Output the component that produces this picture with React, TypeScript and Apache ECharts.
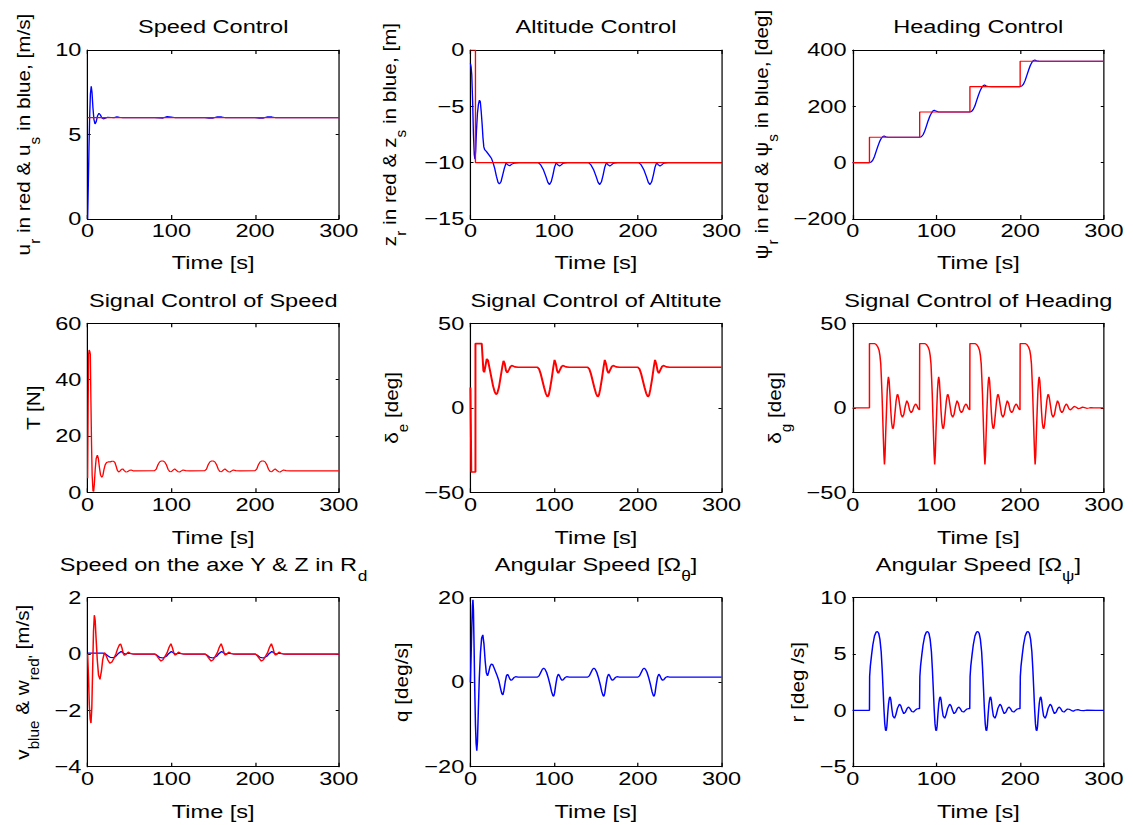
import React, { useEffect, useRef } from "react";
import * as echarts from "echarts";

// The reference figure uses wide glyphs; the chart is drawn at a narrower
// width and stretched back horizontally by CSS.
const S = 1.2396;
const W = 914;
const H = 825;
// stretch along the vertical (rotated) axis titles
const LABEL_ALONG = 1.09;

const FONT = '"Liberation Sans", Arial, Helvetica, sans-serif';
const RED = "#ff0000";
const BLUE = "#0000ff";

// ---------- tick values ----------
const timeTicks = [0, 100, 200, 300];

// ---------- titles and labels ----------
const titles = [
  "Speed Control",
  "Altitude Control",
  "Heading Control",
  "Signal Control of Speed",
  "Signal Control of Altitute",
  "Signal Control of Heading",
  "{m|Speed on the axe Y & Z in R}{s|d}",
  "{m|Angular Speed [Ω}{s|θ}{m|]}",
  "{m|Angular Speed [Ω}{s|ψ}{m|]}",
];
const yNames = [
  "{m|u}{s|r}{m| in red & u}{s|s}{m| in blue, [m/s]}",
  "{m|z}{s|r}{m| in red & z}{s|s}{m| in blue, [m]}",
  "{m|ψ}{s|r}{m| in red & ψ}{s|s}{m| in blue, [deg]}",
  "{m|T [N]}",
  "{m|δ}{s|e}{m| [deg]}",
  "{m|δ}{s|g}{m| [deg]}",
  "{m|v}{s|blue}{m| & w}{s|red'}{m| [m/s]}",
  "{m|q [deg/s]}",
  "{m|r [deg /s]}",
];
const xName = "Time [s]";
const yMin = [0, -15, -200, 0, -50, -50, -4, -20, -5];
const yMax = [10, 0, 400, 60, 50, 50, 2, 20, 10];
const yStep = [5, 5, 200, 20, 50, 50, 2, 20, 5];

// ---------- data: [time s, value] ----------
const speedRef: number[][] = [[0, 6], [300, 6]];
const speedMeas: number[][] = [
  [0, 0], [0.8, 2], [1.6, 4.2], [2.5, 6.2], [3.3, 7.4], [4.3, 7.85], [5.2, 7.5], [6.3, 6.6], [7.5, 5.9],
  [8.8, 5.62], [10.2, 5.75], [11.8, 6.1], [13.5, 6.26], [15.3, 6.15], [17, 5.98], [18.8, 5.92], [21, 5.96],
  [24, 6.02], [28, 6.01], [32, 6.0], [35, 6.05], [38, 6.02], [42, 5.99], [50, 6.0], [60, 6.0], [80, 6.0],
  [85, 5.98], [90, 5.97], [95, 6.06], [100, 6.04], [105, 5.99], [110, 6.01], [120, 6.0], [140, 6.0],
  [145, 5.97], [150, 5.97], [155, 6.05], [160, 6.04], [165, 5.99], [170, 6.01], [180, 6.0], [200, 6.0],
  [205, 5.97], [210, 5.97], [215, 6.05], [220, 6.04], [225, 5.99], [230, 6.01], [240, 6.0], [300, 6.0],
];

const altRef: number[][] = [[0, 0], [6, 0], [6, -10], [300, -10]];
const altMeas: number[][] = [
  [0, -1.2], [0.8, -1.5], [1.6, -2.2], [2.6, -4.5], [3.6, -7.5], [4.6, -9.3], [5.4, -9.7], [6.2, -9.0],
  [7.2, -7.2], [8.4, -5.6], [9.6, -4.8], [10.8, -4.45], [11.8, -4.6], [12.8, -5.4], [14, -6.6], [15, -7.8],
  [16, -8.6], [17, -8.85], [19, -9.0], [21, -9.2], [23, -9.4], [25, -9.6], [27, -10], [29, -10.5],
  [31, -11.2], [33, -11.75], [34.6, -11.9], [36.5, -11.7], [38.5, -11.1], [40.5, -10.5], [42.5, -10.05],
  [45, -10.2], [47, -10.28], [49, -10.15], [52, -10.05], [58, -10], [81, -10], [84, -10.2], [87, -10.6],
  [90, -11.2], [92.5, -11.75], [94.5, -11.95], [96.5, -11.7], [98.5, -11.1], [100.5, -10.4], [102.5, -10.0],
  [104.5, -10.2], [106.5, -10.3], [108.5, -10.2], [111, -10.05], [116, -10], [141, -10], [144, -10.2],
  [147, -10.6], [150, -11.2], [152.5, -11.75], [154.5, -11.95], [156.5, -11.7], [158.5, -11.1],
  [160.5, -10.4], [162.5, -10.0], [164.5, -10.2], [166.5, -10.3], [168.5, -10.2], [171, -10.05], [176, -10],
  [201, -10], [204, -10.2], [207, -10.6], [210, -11.2], [212.5, -11.75], [214.5, -11.95], [216.5, -11.7],
  [218.5, -11.1], [220.5, -10.4], [222.5, -10.0], [224.5, -10.2], [226.5, -10.3], [228.5, -10.2],
  [231, -10.05], [236, -10], [300, -10],
];

const headRef: number[][] = [
  [0, 0], [20, 0], [20, 90], [80, 90], [80, 180], [140, 180], [140, 270], [200, 270], [200, 360], [300, 360],
];
const headMeas: number[][] = [
  [0, 0], [20, 0], [22, 2], [24, 9], [26, 22], [28, 40], [30, 58], [32, 74], [34, 86], [36, 93], [37.5, 94.5],
  [39.5, 92], [42, 90.5], [46, 90], [80, 90], [82, 92], [84, 99], [86, 112], [88, 130], [90, 148], [92, 164],
  [94, 176], [96, 184], [97.5, 186], [99.5, 183], [102, 180.5], [106, 180], [140, 180], [142, 182], [144, 189],
  [146, 202], [148, 220], [150, 238], [152, 254], [154, 266], [156, 274], [157.5, 275.5], [159.5, 272.5],
  [162, 270.5], [166, 270], [200, 270], [202, 272], [204, 279], [206, 292], [208, 310], [210, 328], [212, 344],
  [214, 356], [216, 363], [217.5, 364.5], [219.5, 362], [222, 360.5], [226, 360], [300, 360],
];

const thrust: number[][] = [
  [0, 5], [0.6, 30], [1.2, 49], [1.8, 50.5], [2.6, 50], [3.2, 49], [3.8, 35], [4.6, 18], [5.4, 6], [6.4, 0.5],
  [7.2, 0.3], [8, 3], [9, 8], [10.2, 12], [11.6, 13.2], [12.8, 12], [14, 9], [15.4, 6.2], [16.8, 5.3],
  [18.2, 6], [19.6, 8.2], [21, 9.8], [22.6, 10.6], [24.5, 10.8], [27, 10.8], [29, 11], [31, 11], [32.5, 10.6],
  [34, 9.3], [35.5, 7.8], [37, 7.2], [38.5, 7.5], [40.5, 8.2], [42, 8.3], [43.5, 7.8], [45.5, 7.2],
  [47.5, 7.3], [50, 7.8], [52, 7.9], [55, 7.6], [80, 7.7], [82, 8.2], [84, 9.8], [86, 10.8], [88, 11.1],
  [90, 11.1], [92, 10.8], [94, 9.8], [96, 8.2], [98, 7.4], [100, 7.3], [102, 7.9], [104, 8.3], [106, 7.8],
  [108, 7.3], [110, 7.2], [112, 7.6], [114, 7.9], [117, 7.7], [122, 7.6], [140, 7.7], [142, 8.2], [144, 9.8],
  [146, 10.8], [148, 11.1], [150, 11.1], [152, 10.8], [154, 9.8], [156, 8.2], [158, 7.4], [160, 7.3],
  [162, 7.9], [164, 8.3], [166, 7.8], [168, 7.3], [170, 7.2], [172, 7.6], [174, 7.9], [177, 7.7], [182, 7.6],
  [200, 7.7], [202, 8.2], [204, 9.8], [206, 10.8], [208, 11.1], [210, 11.1], [212, 10.8], [214, 9.8],
  [216, 8.2], [218, 7.4], [220, 7.3], [222, 7.9], [224, 8.3], [226, 7.8], [228, 7.3], [230, 7.2], [232, 7.6],
  [234, 7.9], [237, 7.7], [242, 7.6], [300, 7.6],
];

const elevator: number[][] = [
  [0, 12], [0.5, -10], [1, -38], [6, -38], [6, 38], [13.5, 38], [14.5, 30], [15.5, 22], [16.5, 21], [18, 25],
  [19.5, 29], [21, 28], [23, 23], [25, 18], [27, 13], [29, 9.5], [30.5, 8], [32, 8.5], [34, 12], [36, 18],
  [38, 24], [39.5, 27.8], [41, 26], [42.5, 22], [44, 20.8], [46, 22.5], [48, 24.5], [50, 25], [53, 24.2],
  [57, 24], [80, 24], [82, 23], [84, 20], [86, 16], [88, 12], [90, 8.5], [92, 6.5], [93.5, 7.5], [95, 11],
  [97, 17], [99, 24], [100.5, 28.3], [102, 26], [103.5, 22], [105, 20.5], [107, 22.5], [109, 24.5], [111, 25],
  [114, 24.2], [118, 24], [140, 24], [142, 23], [144, 20], [146, 16], [148, 12], [150, 8.5], [152, 6.5],
  [153.5, 7.5], [155, 11], [157, 17], [159, 24], [160.5, 28.3], [162, 26], [163.5, 22], [165, 20.5],
  [167, 22.5], [169, 24.5], [171, 25], [174, 24.2], [178, 24], [200, 24], [202, 23], [204, 20], [206, 16],
  [208, 12], [210, 8.5], [212, 6.5], [213.5, 7.5], [215, 11], [217, 17], [219, 24], [220.5, 28.3], [222, 26],
  [223.5, 22], [225, 20.5], [227, 22.5], [229, 24.5], [231, 25], [234, 24.2], [238, 24], [300, 24],
];

const rudder: number[][] = [
  [0, 0], [20, 0], [20, 38], [26, 38], [28, 37.5], [30, 36], [31.5, 34], [32.5, 31], [33.5, 26], [34.2, 18],
  [35, 8], [35.8, -5], [36.6, -18], [37.3, -28], [37.9, -33.5], [38.6, -28], [39.4, -15], [40.3, -2],
  [41.2, 10], [42, 16], [42.7, 18.3], [43.5, 16], [44.5, 8], [45.5, -2], [46.5, -9], [47.5, -12],
  [48.3, -12.3], [49.2, -10], [50.5, -3], [51.8, 4], [53, 7.6], [53.8, 8], [54.8, 6], [56.3, 1], [57.8, -4],
  [59.4, -5.6], [61, -4], [62.8, 1], [64.6, 4.2], [66.3, 2.5], [68, -1.5], [69.8, -2.9], [71.5, -1.8],
  [73.2, 0.8], [75, 2.3], [76.6, 1.4], [78.2, -0.5], [79.8, -1.3],
  [80, 38], [86, 38], [88, 37.5], [90, 36], [91.5, 34], [92.5, 31], [93.5, 26], [94.2, 18], [95, 8],
  [95.8, -5], [96.6, -18], [97.3, -28], [97.9, -33.5], [98.6, -28], [99.4, -15], [100.3, -2], [101.2, 10],
  [102, 16], [102.7, 18.3], [103.5, 16], [104.5, 8], [105.5, -2], [106.5, -9], [107.5, -12], [108.3, -12.3],
  [109.2, -10], [110.5, -3], [111.8, 4], [113, 7.6], [113.8, 8], [114.8, 6], [116.3, 1], [117.8, -4],
  [119.4, -5.6], [121, -4], [122.8, 1], [124.6, 4.2], [126.3, 2.5], [128, -1.5], [129.8, -2.9], [131.5, -1.8],
  [133.2, 0.8], [135, 2.3], [136.6, 1.4], [138.2, -0.5], [139.8, -1.3],
  [140, 38], [146, 38], [148, 37.5], [150, 36], [151.5, 34], [152.5, 31], [153.5, 26], [154.2, 18], [155, 8],
  [155.8, -5], [156.6, -18], [157.3, -28], [157.9, -33.5], [158.6, -28], [159.4, -15], [160.3, -2],
  [161.2, 10], [162, 16], [162.7, 18.3], [163.5, 16], [164.5, 8], [165.5, -2], [166.5, -9], [167.5, -12],
  [168.3, -12.3], [169.2, -10], [170.5, -3], [171.8, 4], [173, 7.6], [173.8, 8], [174.8, 6], [176.3, 1],
  [177.8, -4], [179.4, -5.6], [181, -4], [182.8, 1], [184.6, 4.2], [186.3, 2.5], [188, -1.5], [189.8, -2.9],
  [191.5, -1.8], [193.2, 0.8], [195, 2.3], [196.6, 1.4], [198.2, -0.5], [199.8, -1.3],
  [200, 38], [206, 38], [208, 37.5], [210, 36], [211.5, 34], [212.5, 31], [213.5, 26], [214.2, 18], [215, 8],
  [215.8, -5], [216.6, -18], [217.3, -28], [217.9, -33.5], [218.6, -28], [219.4, -15], [220.3, -2],
  [221.2, 10], [222, 16], [222.7, 18.3], [223.5, 16], [224.5, 8], [225.5, -2], [226.5, -9], [227.5, -12],
  [228.3, -12.3], [229.2, -10], [230.5, -3], [231.8, 4], [233, 7.6], [233.8, 8], [234.8, 6], [236.3, 1],
  [237.8, -4], [239.4, -5.6], [241, -4], [242.8, 1], [244.6, 4.2], [246.3, 2.5], [248, -1.5], [249.8, -2.9],
  [251.5, -1.8], [253.2, 0.8], [255, 2.3], [256.6, 1.4], [258.2, -0.5], [259.8, -1.3], [262, -0.4],
  [264.5, 0.9], [267, 0.3], [269.5, -0.6], [272, -0.2], [274.5, 0.4], [277, 0.1], [279.5, -0.3], [282, -0.1],
  [284.5, 0.15], [288, 0], [300, 0],
];

const swayV: number[][] = [
  [0, 0.03], [18, 0.03], [21, 0.01], [24, -0.06], [27, -0.12], [31, -0.13], [34, -0.07], [37, 0.03],
  [40, 0.09], [42.5, 0.04], [45, -0.01], [48, 0.03], [52, 0.01], [58, 0], [80, 0], [83, -0.05], [86, -0.12],
  [90, -0.14], [94, -0.08], [97, 0.02], [100, 0.09], [102.5, 0.04], [105, -0.01], [108, 0.03], [112, 0.01],
  [118, 0], [140, 0], [143, -0.05], [146, -0.12], [150, -0.14], [154, -0.08], [157, 0.02], [160, 0.09],
  [162.5, 0.04], [165, -0.01], [168, 0.03], [172, 0.01], [178, 0], [200, 0], [203, -0.05], [206, -0.12],
  [210, -0.14], [214, -0.08], [217, 0.02], [220, 0.09], [222.5, 0.04], [225, -0.01], [228, 0.03], [232, 0.01],
  [238, 0], [300, 0],
];
const heaveW: number[][] = [
  [0, 0], [1, -0.8], [2, -1.8], [3, -2.3], [4, -2.45], [5, -1.9], [6, -0.5], [7, 0.8], [8, 1.38], [9, 1.2],
  [10, 0.6], [11.5, -0.2], [13, -0.75], [14.7, -0.9], [16.5, -0.6], [18, -0.2], [20, 0.05], [22, -0.05],
  [24, -0.2], [26.5, -0.33], [29, -0.28], [31.5, -0.15], [34, 0.02], [36, 0.2], [38, 0.33], [39.4, 0.36],
  [41, 0.22], [42.5, 0.02], [44, -0.05], [46, 0], [48.5, 0.07], [51, 0.03], [54, 0], [80, 0], [82, -0.03],
  [84.5, -0.14], [87.5, -0.25], [90, -0.2], [92.5, -0.08], [95, 0.05], [97, 0.22], [99.5, 0.37], [101.5, 0.2],
  [103, 0.02], [104.5, -0.04], [106.5, 0], [108.5, 0.07], [111, 0.03], [114, 0], [140, 0], [142, -0.03],
  [144.5, -0.14], [147.5, -0.25], [150, -0.2], [152.5, -0.08], [155, 0.05], [157, 0.22], [159.5, 0.37],
  [161.5, 0.2], [163, 0.02], [164.5, -0.04], [166.5, 0], [168.5, 0.07], [171, 0.03], [174, 0], [200, 0],
  [202, -0.03], [204.5, -0.14], [207.5, -0.25], [210, -0.2], [212.5, -0.08], [215, 0.05], [217, 0.22],
  [219.5, 0.37], [221.5, 0.2], [223, 0.02], [224.5, -0.04], [226.5, 0], [228.5, 0.07], [231, 0.03], [234, 0],
  [300, 0],
];

const pitchRate: number[][] = [
  [0, 0], [0.8, 6], [1.6, 13], [2.4, 18], [3, 19.5], [3.6, 17], [4.4, 8], [5.2, -2], [6, -10], [6.8, -14.5],
  [7.6, -16.2], [8.4, -14], [9.4, -7], [10.6, 1], [12, 7], [13.4, 10.5], [14.8, 11.2], [16.2, 9], [17.6, 5],
  [19, 2.2], [20.4, 1.5], [21.8, 2.4], [23.5, 3.8], [25, 4.3], [26.5, 4.2], [28, 3.5], [30, 2.5], [32, 1.5],
  [34, 0.3], [36, -1.5], [37.5, -2.7], [38.8, -3.0], [40, -2], [41.5, 0], [43, 1.5], [44.3, 1.9], [45.5, 1.5],
  [47, 0.8], [48.5, 0.45], [50, 0.6], [52, 1.1], [54, 1.3], [57, 1.2], [80, 1.2], [82, 1.5], [84, 2.3],
  [86, 3.1], [87.5, 3.3], [89, 3.1], [91, 2.3], [93, 1.0], [95, -0.5], [97, -2.3], [98.5, -3.2], [99.5, -3.3],
  [100.5, -2.6], [102, -0.5], [103.5, 1.2], [105, 1.9], [106.5, 1.5], [108, 0.8], [109.5, 0.45], [111, 0.6],
  [113, 1.1], [115, 1.3], [118, 1.2], [140, 1.2], [142, 1.5], [144, 2.3], [146, 3.1], [147.5, 3.3], [149, 3.1],
  [151, 2.3], [153, 1.0], [155, -0.5], [157, -2.3], [158.5, -3.2], [159.5, -3.3], [160.5, -2.6], [162, -0.5],
  [163.5, 1.2], [165, 1.9], [166.5, 1.5], [168, 0.8], [169.5, 0.45], [171, 0.6], [173, 1.1], [175, 1.3],
  [178, 1.2], [200, 1.2], [202, 1.5], [204, 2.3], [206, 3.1], [207.5, 3.3], [209, 3.1], [211, 2.3], [213, 1.0],
  [215, -0.5], [217, -2.3], [218.5, -3.2], [219.5, -3.3], [220.5, -2.6], [222, -0.5], [223.5, 1.2], [225, 1.9],
  [226.5, 1.5], [228, 0.8], [229.5, 0.45], [231, 0.6], [233, 1.1], [235, 1.3], [238, 1.2], [300, 1.2],
];

const yawRate: number[][] = [
  [0, 0], [20, 0], [20.2, 3.0], [21, 3.9], [22.5, 4.9], [24, 5.8], [26, 6.6], [28, 6.95], [29.5, 7.0],
  [31, 6.85], [32.5, 6.3], [34, 5.2], [35.2, 3.6], [36.3, 1.8], [37.3, 0.1], [38.3, -1.2], [39.2, -1.75],
  [40, -1.8], [40.8, -1.4], [41.8, -0.3], [42.8, 0.6], [43.8, 1.1], [44.7, 1.2], [45.6, 0.9], [46.8, 0.1],
  [48, -0.5], [49.9, -0.7], [51.5, -0.4], [53.5, 0.2], [55.8, 0.55], [57.5, 0.4], [59.2, 0], [61, -0.3],
  [63, -0.15], [64.8, 0.15], [66.5, 0.3], [68.5, 0.15], [70.5, -0.1], [72.5, -0.15], [74.5, 0], [76.5, 0.12],
  [78.5, 0.15], [79.8, 0.15],
  [80.2, 3.0], [81, 3.9], [82.5, 4.9], [84, 5.8], [86, 6.6], [88, 6.95], [89.5, 7.0], [91, 6.85], [92.5, 6.3],
  [94, 5.2], [95.2, 3.6], [96.3, 1.8], [97.3, 0.1], [98.3, -1.2], [99.2, -1.75], [100, -1.8], [100.8, -1.4],
  [101.8, -0.3], [102.8, 0.6], [103.8, 1.1], [104.7, 1.2], [105.6, 0.9], [106.8, 0.1], [108, -0.5],
  [109.9, -0.7], [111.5, -0.4], [113.5, 0.2], [115.8, 0.55], [117.5, 0.4], [119.2, 0], [121, -0.3],
  [123, -0.15], [124.8, 0.15], [126.5, 0.3], [128.5, 0.15], [130.5, -0.1], [132.5, -0.15], [134.5, 0],
  [136.5, 0.12], [138.5, 0.15], [139.8, 0.15],
  [140.2, 3.0], [141, 3.9], [142.5, 4.9], [144, 5.8], [146, 6.6], [148, 6.95], [149.5, 7.0], [151, 6.85],
  [152.5, 6.3], [154, 5.2], [155.2, 3.6], [156.3, 1.8], [157.3, 0.1], [158.3, -1.2], [159.2, -1.75], [160, -1.8],
  [160.8, -1.4], [161.8, -0.3], [162.8, 0.6], [163.8, 1.1], [164.7, 1.2], [165.6, 0.9], [166.8, 0.1], [168, -0.5],
  [169.9, -0.7], [171.5, -0.4], [173.5, 0.2], [175.8, 0.55], [177.5, 0.4], [179.2, 0], [181, -0.3],
  [183, -0.15], [184.8, 0.15], [186.5, 0.3], [188.5, 0.15], [190.5, -0.1], [192.5, -0.15], [194.5, 0],
  [196.5, 0.12], [198.5, 0.15], [199.8, 0.15],
  [200.2, 3.0], [201, 3.9], [202.5, 4.9], [204, 5.8], [206, 6.6], [208, 6.95], [209.5, 7.0], [211, 6.85],
  [212.5, 6.3], [214, 5.2], [215.2, 3.6], [216.3, 1.8], [217.3, 0.1], [218.3, -1.2], [219.2, -1.75], [220, -1.8],
  [220.8, -1.4], [221.8, -0.3], [222.8, 0.6], [223.8, 1.1], [224.7, 1.2], [225.6, 0.9], [226.8, 0.1], [228, -0.5],
  [229.9, -0.7], [231.5, -0.4], [233.5, 0.2], [235.8, 0.55], [237.5, 0.4], [239.2, 0], [241, -0.3],
  [243, -0.15], [244.8, 0.15], [246.5, 0.3], [248.5, 0.15], [250.5, -0.1], [252.5, -0.15], [254.5, 0],
  [256.5, 0.12], [258.5, 0.1], [261, 0], [263.5, -0.08], [266, 0.03], [269, 0.06], [272, 0], [276, -0.03],
  [280, 0.02], [290, 0], [300, 0],
];

// series per panel: [data, color]
const panelSeries: [number[][], string][][] = [
  [[speedMeas, BLUE], [speedRef, RED]],
  [[altMeas, BLUE], [altRef, RED]],
  [[headMeas, BLUE], [headRef, RED]],
  [[thrust, RED]],
  [[elevator, RED]],
  [[rudder, RED]],
  [[swayV, BLUE], [heaveW, RED]],
  [[pitchRate, BLUE]],
  [[yawRate, BLUE]],
];

// ---------- layout (unscaled px) ----------
const colLeft = [70.7, 379.5, 687.9];
const colWidth = 202.6;
const rowTop = [50, 323.3, 597.7];
const rowHeight = 169;
const titleTop = [17, 291, 555.5];
const xNameGap = [34, 35, 35];
// centre of each y label, screen px from page left
const yLabelCenterScreen = [28.1, 393.8, 766.1, 34.1, 396.3, 778.8, 27.1, 401.5, 798.1];
const seriesWidth = [1.1, 1.1, 1.1, 1.1, 1.6, 1.2, 1.2, 1.2, 1.2];

const rich = {
  m: { fontSize: 19, lineHeight: 20, verticalAlign: "top", fontFamily: FONT, fontWeight: "normal", color: "#000", fill: "#000" },
  s: { fontSize: 14, lineHeight: 28, verticalAlign: "bottom", fontFamily: FONT, fontWeight: "normal", color: "#000", fill: "#000" },
};
const baseText = { fontSize: 19, lineHeight: 20, fontFamily: FONT, color: "#000", fontWeight: "normal", rich };

const minusFmt = (v: number) => (v < 0 ? "\u2212" + Math.abs(v) : String(v));

function buildOption() {
  const grid: any[] = [];
  const xAxis: any[] = [];
  const yAxis: any[] = [];
  const title: any[] = [];
  const series: any[] = [];
  const graphic: any[] = [];
  const axisLine = { show: true, onZero: false, lineStyle: { color: "#000", width: 1 } };
  const labelStyle = { fontSize: 19, lineHeight: 20, fontFamily: FONT, fontWeight: "normal", color: "#000", formatter: minusFmt };
  for (let i = 0; i < 9; i++) {
    const r = Math.floor(i / 3);
    const c = i % 3;
    grid.push({ left: colLeft[c], top: rowTop[r], width: colWidth, height: rowHeight, containLabel: false });
    title.push({
      text: titles[i],
      left: colLeft[c] + colWidth / 2,
      top: titleTop[r],
      textAlign: "center",
      padding: 0,
      textStyle: baseText,
    });
    const xBase = {
      type: "value",
      gridIndex: i,
      min: timeTicks[0],
      max: timeTicks[timeTicks.length - 1],
      interval: timeTicks[1] - timeTicks[0],
      splitLine: { show: false },
      axisLine,
    };
    xAxis.push({
      ...xBase,
      position: "bottom",
      axisTick: { show: true, inside: true, length: 4, lineStyle: { color: "#000" } },
      axisLabel: { show: true, margin: 2, ...labelStyle },
      name: xName,
      nameLocation: "middle",
      nameGap: xNameGap[r],
      nameTextStyle: baseText,
    });
    xAxis.push({
      ...xBase,
      position: "top",
      axisTick: { show: true, inside: true, length: 4, lineStyle: { color: "#000" } },
      axisLabel: { show: false },
    });
    const yBase = {
      type: "value",
      gridIndex: i,
      min: yMin[i],
      max: yMax[i],
      interval: yStep[i],
      splitLine: { show: false },
      axisLine,
    };
    yAxis.push({
      ...yBase,
      position: "left",
      axisTick: { show: true, inside: true, length: 2.5, lineStyle: { color: "#000" } },
      axisLabel: { show: true, margin: 5, ...labelStyle },
    });
    yAxis.push({
      ...yBase,
      position: "right",
      axisTick: { show: true, inside: true, length: 2.5, lineStyle: { color: "#000" } },
      axisLabel: { show: false },
    });
    // vertical axis title: slightly wide glyphs along the text, normal height across it
    graphic.push({
      type: "text",
      x: yLabelCenterScreen[i] / S,
      y: rowTop[r] + rowHeight / 2,
      rotation: Math.PI / 2,
      scaleX: LABEL_ALONG,
      scaleY: 1 / S,
      silent: true,
      style: {
        text: yNames[i],
        fill: "#000",
        fontSize: 19,
        lineHeight: 20,
        fontFamily: FONT,
        align: "center",
        verticalAlign: "middle",
        rich,
      },
    });
    for (const [data, color] of panelSeries[i]) {
      series.push({
        type: "line",
        xAxisIndex: 2 * i,
        yAxisIndex: 2 * i,
        data,
        showSymbol: false,
        symbol: "none",
        smooth: false,
        clip: true,
        silent: true,
        lineStyle: { color, width: seriesWidth[i] },
        itemStyle: { color },
      });
    }
  }
  return { animation: false, backgroundColor: "#ffffff", title, grid, xAxis, yAxis, series, graphic };
}

export default function App() {
  const ref = useRef<HTMLDivElement>(null);
  useEffect(() => {
    if (!ref.current) return;
    const chart = echarts.init(ref.current, undefined, { renderer: "svg" });
    chart.setOption(buildOption() as any);
    return () => chart.dispose();
  }, []);
  return (
    <div
      ref={ref}
      style={{
        position: "absolute",
        left: 0,
        top: 0,
        width: W,
        height: H,
        background: "#fff",
        transform: `scaleX(${S})`,
        transformOrigin: "0 0",
      }}
    />
  );
}
